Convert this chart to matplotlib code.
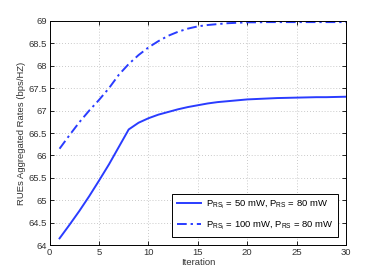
import matplotlib
matplotlib.use('Agg')
import matplotlib.pyplot as plt

plt.rcParams['font.family'] = ['Liberation Sans', 'DejaVu Sans']
plt.rcParams['mathtext.default'] = 'regular'

# iterations
iters = list(range(1, 31))

# P_RSi = 50 mW
rate_50 = [64.15, 64.45, 64.76, 65.09, 65.44, 65.80, 66.19, 66.58, 66.73, 66.83,
           66.91, 66.97, 67.03, 67.08, 67.12, 67.16, 67.19, 67.21, 67.23, 67.25,
           67.26, 67.27, 67.28, 67.285, 67.29, 67.295, 67.30, 67.30, 67.305, 67.31]

# P_RSi = 100 mW
rate_100 = [66.15, 66.45, 66.74, 67.00, 67.24, 67.50, 67.80, 68.04, 68.24, 68.41,
            68.55, 68.67, 68.76, 68.83, 68.88, 68.91, 68.93, 68.95, 68.96, 68.97,
            68.97, 68.975, 68.975, 68.975, 68.975, 68.975, 68.975, 68.975, 68.975, 68.975]

fig = plt.figure(figsize=(3.82, 2.76), dpi=100)
ax = fig.add_axes([0.13, 0.112, 0.776, 0.812])

ax.plot(iters, rate_50, color='#2a3cff', lw=1.4, label=r'$P_{RS_i}$ = 50 mW, $P_{RS}$ = 80 mW')
ax.plot(iters, rate_100, color='#2a3cff', lw=1.4, linestyle=(0, (5, 2, 1.2, 2)),
        label=r'$P_{RS_i}$ = 100 mW, $P_{RS}$ = 80 mW')

ax.set_xlim(0, 30)
ax.set_ylim(64, 69)
ax.set_xticks(range(0, 31, 5))
ax.set_yticks([64, 64.5, 65, 65.5, 66, 66.5, 67, 67.5, 68, 68.5, 69])
ax.set_yticklabels(['64', '64.5', '65', '65.5', '66', '66.5', '67', '67.5', '68', '68.5', '69'])
ax.tick_params(labelsize=6.8, direction='in', length=3, width=0.6, top=True, right=True, pad=2,
               labelcolor='#333333')
ax.grid(True, linestyle=(0, (1, 2.5)), color='#b8b8b8', linewidth=0.6)
for s in ax.spines.values():
    s.set_linewidth(0.7)

ax.set_xlabel('Iteration', fontsize=6.8, labelpad=1, color='#333333')
ax.set_ylabel('RUEs Aggregated Rates (bps/HZ)', fontsize=6.8, labelpad=2, color='#333333')

leg = ax.legend(loc='lower right', fontsize=6.8, fancybox=False, edgecolor='black',
                framealpha=1, borderaxespad=0.85, handlelength=2.6, handletextpad=0.5,
                labelspacing=0.9, borderpad=0.5)
leg.get_frame().set_linewidth(0.7)

fig.savefig('out.png', dpi=100)
